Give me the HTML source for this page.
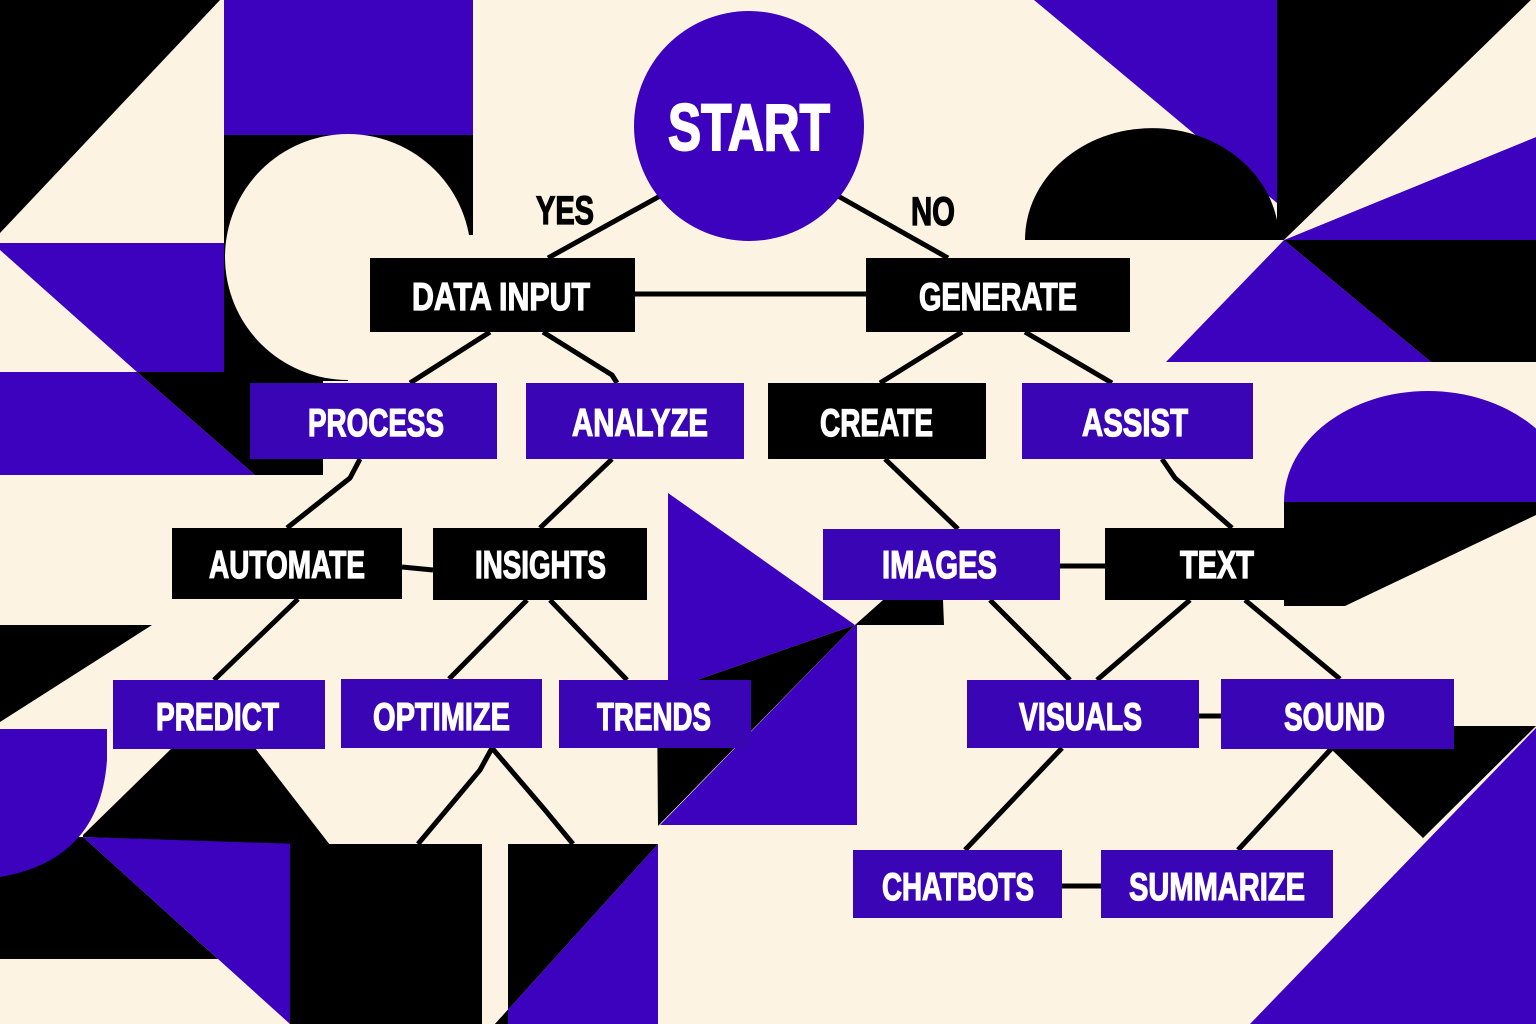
<!DOCTYPE html>
<html><head><meta charset="utf-8"><style>
html,body{margin:0;padding:0;background:#FCF3E3;}
svg{display:block}
text{font-family:"Liberation Sans",sans-serif;font-weight:bold;fill:#fff;stroke:#fff;stroke-width:1.3px}
</style></head><body>
<svg width="1536" height="1024" viewBox="0 0 1536 1024" xmlns="http://www.w3.org/2000/svg">
<rect width="1536" height="1024" fill="#FCF3E3"/>
<g fill="#3D02BE">
<rect x="224" y="0" width="249" height="135"/>
<polygon points="0,243 224,243 224,372 137,372 0,250"/>
<polygon points="0,372 137,372 255,475 0,475"/>
<polygon points="1034,0 1277,0 1277,203"/>
<polygon points="1284,240 1536,137 1536,240"/>
<polygon points="1166,362 1284,240 1431,362"/>
<polygon points="668,493 855,625 697,680 668,680"/>
<polygon points="855,625 857,625 857,825 660,825"/>
<polygon points="83,837 330,844 290,844 290,1024"/>
<polygon points="658,844 658,1024 495,1024"/>
<polygon points="1536,728 1536,1024 1250,1024"/>
</g>
<g fill="#000">
<polygon points="0,0 220,0 0,233"/>
<rect x="224" y="135" width="249" height="100"/>
<rect x="224" y="135" width="124" height="246"/>
<polygon points="137,372 323,372 323,475 255,475"/>
<polygon points="1277,0 1531,0 1284,240 1277,240"/>
<path d="M1025,240 A127,112 0 0 1 1279,240 Z"/>
<polygon points="1284,240 1536,240 1536,362 1431,362"/>
<polygon points="1284,502 1536,502 1536,515 1345,606 1284,606"/>
<polygon points="697,680 855,625 658,826 657,700"/>
<polygon points="855,625 883,600 943,600 944,625"/>
<polygon points="0,625 152,625 0,722"/>
<polygon points="0,840 83,837 218,959 0,959"/>
<polygon points="83,835 172,748 255,748 330,845 83,837"/>
<rect x="290" y="844" width="192" height="180"/>
<polygon points="508,844 658,844 495,1024 508,1024"/>
<polygon points="1331,749 1454,749 1454,726 1536,726 1423,838"/>
</g>
<circle cx="348" cy="257" r="123" fill="#FCF3E3"/>
<polygon points="1284,240 1536,137 1536,0 1531,0" fill="#FCF3E3"/>
<path d="M1284,502 A144,111 0 0 1 1572,502 Z" fill="#3D02BE"/>
<path d="M0,729 L107,729 L107,760 Q100,860 0,877 Z" fill="#3D02BE"/>

<g stroke="#000" stroke-width="5" fill="none" stroke-linejoin="round">
<line x1="660" y1="196" x2="548" y2="258"/>
<line x1="838" y1="196" x2="948" y2="258"/>
<line x1="635" y1="294" x2="866" y2="294"/>
<line x1="490" y1="332" x2="410" y2="383"/>
<polyline points="543,332 612,375 617,383"/>
<line x1="962" y1="332" x2="880" y2="383"/>
<line x1="1025" y1="332" x2="1112" y2="383"/>
<polyline points="360,459 350,478 287,528"/>
<line x1="612" y1="459" x2="540" y2="528"/>
<line x1="885" y1="459" x2="958" y2="529"/>
<polyline points="1162,459 1175,478 1232,528"/>
<line x1="402" y1="567" x2="433" y2="570"/>
<line x1="298" y1="599" x2="214" y2="680"/>
<line x1="527" y1="600" x2="449" y2="679"/>
<line x1="550" y1="600" x2="627" y2="680"/>
<line x1="1060" y1="566" x2="1105" y2="566"/>
<line x1="990" y1="600" x2="1070" y2="680"/>
<line x1="1190" y1="600" x2="1097" y2="680"/>
<line x1="1245" y1="600" x2="1340" y2="679"/>
<line x1="1199" y1="716" x2="1221" y2="716"/>
<polyline points="492,748 480,770 418,844"/>
<polyline points="492,748 545,810 573,844"/>
<line x1="1062" y1="748" x2="965" y2="850"/>
<line x1="1331" y1="749" x2="1238" y2="850"/>
<line x1="1062" y1="886" x2="1101" y2="886"/>
</g>

<circle cx="749" cy="126" r="115" fill="#3D02BE"/>
<text x="668" y="150" font-size="66" textLength="162" lengthAdjust="spacingAndGlyphs" style="stroke-width:2px">START</text>
<text x="536" y="224" font-size="40" textLength="58" lengthAdjust="spacingAndGlyphs" style="fill:#000;stroke:#000">YES</text>
<text x="911" y="225" font-size="40" textLength="44" lengthAdjust="spacingAndGlyphs" style="fill:#000;stroke:#000">NO</text>

<g fill="#000">
<rect x="370" y="258" width="265" height="74"/>
<rect x="866" y="258" width="264" height="74"/>
<rect x="768" y="383" width="218" height="76"/>
<rect x="172" y="528" width="230" height="71"/>
<rect x="433" y="528" width="214" height="72"/>
<rect x="1105" y="528" width="235" height="72"/>
</g>
<g fill="#3A06B5">
<rect x="250" y="383" width="247" height="76"/>
<rect x="526" y="383" width="218" height="76"/>
<rect x="1022" y="383" width="231" height="76"/>
<rect x="823" y="529" width="237" height="71"/>
<rect x="113" y="680" width="212" height="69"/>
<rect x="341" y="679" width="201" height="69"/>
<rect x="559" y="680" width="192" height="68"/>
<rect x="967" y="680" width="232" height="68"/>
<rect x="1221" y="679" width="233" height="70"/>
<rect x="853" y="850" width="209" height="68"/>
<rect x="1101" y="850" width="232" height="68"/>
</g>
<g font-size="39">
<text x="412" y="310" textLength="178" lengthAdjust="spacingAndGlyphs">DATA INPUT</text>
<text x="919" y="310" textLength="158" lengthAdjust="spacingAndGlyphs">GENERATE</text>
<text x="308" y="436" textLength="136" lengthAdjust="spacingAndGlyphs">PROCESS</text>
<text x="572" y="436" textLength="136" lengthAdjust="spacingAndGlyphs">ANALYZE</text>
<text x="820" y="436" textLength="113" lengthAdjust="spacingAndGlyphs">CREATE</text>
<text x="1082" y="436" textLength="106" lengthAdjust="spacingAndGlyphs">ASSIST</text>
<text x="209" y="578" textLength="156" lengthAdjust="spacingAndGlyphs">AUTOMATE</text>
<text x="475" y="578" textLength="131" lengthAdjust="spacingAndGlyphs">INSIGHTS</text>
<text x="882" y="578" textLength="115" lengthAdjust="spacingAndGlyphs">IMAGES</text>
<text x="1180" y="578" textLength="74" lengthAdjust="spacingAndGlyphs">TEXT</text>
<text x="156" y="730" textLength="123" lengthAdjust="spacingAndGlyphs">PREDICT</text>
<text x="373" y="730" textLength="137" lengthAdjust="spacingAndGlyphs">OPTIMIZE</text>
<text x="597" y="730" textLength="114" lengthAdjust="spacingAndGlyphs">TRENDS</text>
<text x="1019" y="730" textLength="123" lengthAdjust="spacingAndGlyphs">VISUALS</text>
<text x="1284" y="730" textLength="101" lengthAdjust="spacingAndGlyphs">SOUND</text>
<text x="882" y="900" textLength="152" lengthAdjust="spacingAndGlyphs">CHATBOTS</text>
<text x="1129" y="900" textLength="176" lengthAdjust="spacingAndGlyphs">SUMMARIZE</text>
</g>
</svg>
</body></html>
